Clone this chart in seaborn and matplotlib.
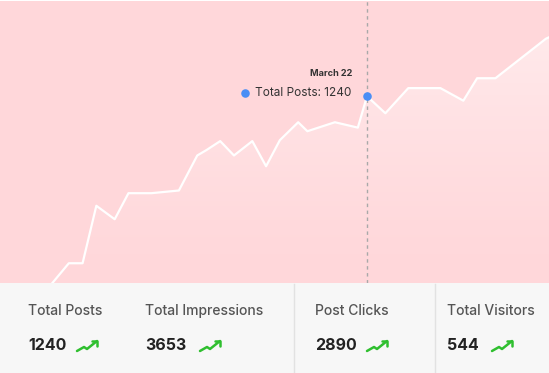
import numpy as np
import pandas as pd
import matplotlib
matplotlib.use("Agg")
import matplotlib.pyplot as plt
import matplotlib.dates as mdates
from matplotlib.patches import Polygon, Rectangle
import seaborn as sns

# chart data
dates = ["2023-01-09", "2023-01-16", "2023-01-19", "2023-01-22", "2023-01-26",
         "2023-01-29", "2023-02-03", "2023-02-09", "2023-02-13", "2023-02-15",
         "2023-02-18", "2023-02-21", "2023-02-25", "2023-02-28", "2023-03-03",
         "2023-03-07", "2023-03-09", "2023-03-15", "2023-03-20", "2023-03-22",
         "2023-03-26", "2023-03-31", "2023-04-07", "2023-04-12", "2023-04-15",
         "2023-04-19", "2023-04-30", "2023-05-05"]
posts = [95, 310, 310, 630, 555, 700, 700, 715, 910, 940,
         990, 910, 990, 850, 995, 1095, 1045, 1095, 1065, 1240,
         1145, 1285, 1285, 1215, 1340, 1340, 1560, 1620]

hover_date = "2023-03-22"
hover_value = 1240

stat_labels = ["Total Posts", "Total Impressions", "Post Clicks", "Total Visitors"]
stat_values = [1240, 3653, 2890, 544]


def main():
    plt.rcParams["font.family"] = ["Inter", "DejaVu Sans"]
    W, H = 549, 373
    fig = plt.figure(figsize=(W / 100, H / 100), dpi=100)
    fig.patch.set_facecolor("white")

    # bottom stats panel (pixel coordinates)
    panel = fig.add_axes([0, 0, 1, 1], zorder=2)
    panel.set_xlim(0, W)
    panel.set_ylim(H, 0)
    panel.axis("off")
    panel.patch.set_alpha(0)
    panel.add_patch(Rectangle((0, 283), W, 90, color="#f7f7f7", lw=0))
    for xd in [294, 435]:
        panel.plot([xd, xd], [284, 373], color="#e2e2e2", lw=1)

    card_x = [28, 145, 315, 447]
    icon_x = [77, 200, 367, 492]
    for lab, val, cx, ix in zip(stat_labels, stat_values, card_x, icon_x):
        panel.text(cx, 311, lab, fontsize=10, color="#555555", fontweight="medium",
                   va="center", ha="left")
        panel.text(cx, 346, str(val), fontsize=11.5, color="#222222",
                   fontweight="bold", va="center", ha="left")
        panel.plot([ix, ix + 7, ix + 10, ix + 20], [351, 347, 349, 341],
                   color="#2fbf2f", lw=1.8, solid_capstyle="round", solid_joinstyle="round")
        panel.plot([ix + 15, ix + 20, ix + 20], [341, 341, 346],
                   color="#2fbf2f", lw=1.8, solid_capstyle="round", solid_joinstyle="round")

    # chart area
    ax = fig.add_axes([0, 90 / H, 1, 282 / H], zorder=1)
    ax.set_facecolor("#ffd7da")
    df = pd.DataFrame({"date": pd.to_datetime(dates), "posts": posts})

    x0 = pd.Timestamp("2023-01-01")
    x1 = x0 + pd.Timedelta(days=549 / 4.5875)
    ymin, ymax = 200, 1770
    ax.set_xlim(x0, x1)
    ax.set_ylim(ymin, ymax)

    # gradient fill under the line
    xs = mdates.date2num(df["date"])
    poly = np.column_stack([np.r_[xs[0], xs, xs[-1]], np.r_[ymin - 200, df["posts"], ymin - 200]])
    clip = Polygon(poly, closed=True, transform=ax.transData, facecolor="none", edgecolor="none")
    ax.add_patch(clip)
    grad = np.linspace(0, 1, 256).reshape(-1, 1)
    rgba = np.ones((256, 1, 4))
    rgba[:, :, 3] = 0.55 * grad ** 1.3
    im = ax.imshow(rgba, extent=[mdates.date2num(x0), mdates.date2num(x1), ymin, ymax],
                   origin="lower", aspect="auto", zorder=1)
    im.set_clip_path(clip)

    sns.lineplot(data=df, x="date", y="posts", ax=ax, color="white", linewidth=1.6, zorder=3)

    hx = pd.Timestamp(hover_date)
    ax.axvline(hx, color="#a9a9a9", lw=1, ls=(0, (2.5, 2.5)), zorder=2)
    ax.scatter([hx], [hover_value], s=38, color="#4a8ef5", zorder=4, linewidths=0)

    # tooltip
    panel.text(352, 74, hx.strftime("%B %-d"), fontsize=6.6, fontweight="bold",
               color="#333333", ha="right", va="center", zorder=5)
    panel.text(255, 93, f"Total Posts: {hover_value}", fontsize=8.5, color="#333333",
               ha="left", va="center", zorder=5)
    panel.scatter([245], [93], s=38, color="#4a8ef5", zorder=5, linewidths=0)

    ax.set_xlabel("")
    ax.set_ylabel("")
    ax.set_xticks([])
    ax.set_yticks([])
    for s in ax.spines.values():
        s.set_visible(False)

    fig.savefig("out.png", dpi=100)


if __name__ == "__main__":
    main()
